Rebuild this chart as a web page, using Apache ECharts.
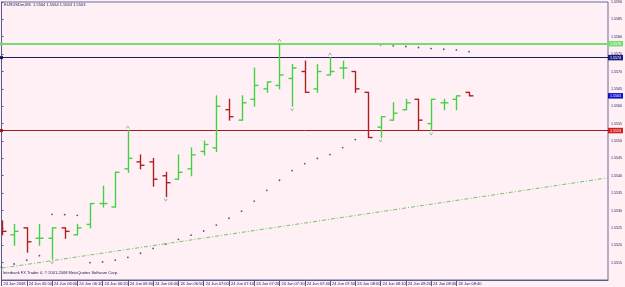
<!DOCTYPE html>
<html><head><meta charset="utf-8">
<script src="https://cdn.jsdelivr.net/npm/echarts@6/dist/echarts.min.js"></script>
<style>html,body{margin:0;padding:0;background:#fff0f5}#c{width:625px;height:287px}</style>
</head><body><div id="c"></div>
<script>
const symbolName = 'EURUSDm,M5';
const barOpen  = [1.5526,1.5523,1.5525,1.5522,1.5522,1.5525,1.5523,1.5526,1.5532,1.5531,1.5542,1.5544,1.5544,1.5540,1.5539,1.5542,1.5547,1.5548,1.5559,1.5556,1.5562,1.5565,1.5566,1.5568,1.5570,1.5565,1.5569,1.5571,1.5570,1.5564,1.5554,1.5556,1.5559,1.5562,1.5555,1.5561,1.5562,1.5564];
const barHigh  = [1.5527,1.5526,1.5525,1.5526,1.5525,1.5525,1.5526,1.5532,1.5537,1.5541,1.5553,1.5546,1.5545,1.5541,1.5546,1.5548,1.5550,1.5563,1.5562,1.5563,1.5571,1.5567,1.5578,1.5572,1.5573,1.5572,1.5574,1.5573,1.5570,1.5564,1.5557,1.5561,1.5562,1.5562,1.5562,1.5562,1.5563,1.5564];
const barLow   = [1.5523,1.5520,1.5518,1.5520,1.5516,1.5522,1.5523,1.5525,1.5531,1.5531,1.5541,1.5542,1.5537,1.5534,1.5539,1.5540,1.5546,1.5547,1.5556,1.5556,1.5560,1.5564,1.5565,1.5560,1.5564,1.5564,1.5569,1.5568,1.5564,1.5551,1.5551,1.5556,1.5559,1.5553,1.5553,1.5559,1.5559,1.5563];
const barClose = [1.5524,1.5524,1.5521,1.5522,1.5525,1.5524,1.5525,1.5532,1.5532,1.5541,1.5545,1.5543,1.5539,1.5538,1.5541,1.5546,1.5549,1.5560,1.5557,1.5561,1.5566,1.5567,1.5569,1.5571,1.5564,1.5570,1.5570,1.5571,1.5565,1.5551,1.5557,1.5558,1.5561,1.5556,1.5562,1.5561,1.5563,1.5563];
const sarValues = [1.55137,1.55146,1.55157,1.55170,1.55289,1.55288,1.55286,1.55150,1.55152,1.55157,1.55165,1.55177,1.55191,1.55203,1.55217,1.55229,1.55241,1.55258,1.55278,1.55298,1.55327,1.55358,1.55387,1.55415,1.55435,1.55450,1.55461,1.55481,1.55504,1.55779,1.55777,1.55774,1.55772,1.55769,1.55766,1.55764,1.55762,1.55757];
const fractalUpBars = [10,22,26];
const fractalDownBars = [4,13,23,30,34];
const tickLabels = ['24 Jun 2008','24 Jun 05:50','24 Jun 06:00','24 Jun 06:10','24 Jun 06:20','24 Jun 06:30','24 Jun 06:40','24 Jun 06:50','24 Jun 07:00','24 Jun 07:10','24 Jun 07:20','24 Jun 07:30','24 Jun 07:40','24 Jun 07:50','24 Jun 08:00','24 Jun 08:10','24 Jun 08:20','24 Jun 08:30','24 Jun 08:40'];
const tickBars = [0,2,4,6,8,10,12,14,16,18,20,22,24,26,28,30,32,34,36];
const levelGreen = 1.5578, levelNavy = 1.5574, levelRed = 1.5553;
const trendStart = [0, 1.55134], trendEnd = [48, 1.55394];
const priceMin = 1.5510, priceMax = 1.5590, priceStep = 0.0005;
const slotCount = 48;

const upColor = '#45d045', downColor = '#ad2020';
const FONT = 'Liberation Sans';
const last = barOpen.length - 1;
const lastPrice = barClose[last];

const ohlc = barOpen.map((o, i) => [i, o, barHigh[i], barLow[i], barClose[i]]);

function renderOHLC(params, api) {
  const i = api.value(0);
  const o = api.coord([i, api.value(1)]);
  const h = api.coord([i, api.value(2)]);
  const l = api.coord([i, api.value(3)]);
  const c = api.coord([i, api.value(4)]);
  const up = api.value(4) >= api.value(1);
  const color = up ? upColor : downColor;
  const x = Math.round(o[0]) + 0.5;
  const t = 4;
  const style = {stroke: color, lineWidth: 1.4, fill: null};
  return {type: 'group', children: [
    {type: 'line', shape: {x1: x, y1: h[1] - 0.5, x2: x, y2: l[1] + 0.5}, style},
    {type: 'line', shape: {x1: x - t, y1: o[1], x2: x, y2: o[1]}, style},
    {type: 'line', shape: {x1: x, y1: c[1], x2: x + t, y2: c[1]}, style}
  ]};
}

const chart = echarts.init(document.getElementById('c'), null, {renderer: 'canvas'});
chart.setOption({
  animation: false,
  backgroundColor: '#fff0f5',
  textStyle: {fontFamily: FONT},
  grid: {left: 1.5, right: 16, top: 1, height: 279, show: true, borderColor: '#6a6a9a', borderWidth: 1, backgroundColor: '#fff0f5'},
  xAxis: {
    type: 'value', min: 0, max: slotCount, interval: 2,
    splitLine: {show: false},
    axisLine: {show: true, lineStyle: {color: '#5a5a8a'}},
    axisTick: {show: true, length: 6, customValues: tickBars, lineStyle: {color: '#5a5a8a'}},
    axisLabel: {show: true, customValues: tickBars, align: 'left', verticalAlign: 'top', margin: 1.5, padding: [0,0,0,2],
      fontSize: 4, color: '#202060', fontFamily: FONT,
      formatter: v => tickLabels[tickBars.indexOf(Math.round(v))] || ''}
  },
  yAxis: {
    type: 'value', position: 'right', min: priceMin, max: priceMax, interval: priceStep, scale: true,
    splitLine: {show: false},
    axisLine: {show: true, lineStyle: {color: '#5a5a8a'}},
    axisTick: {show: true, length: 2, lineStyle: {color: '#5a5a8a'}},
    axisLabel: {show: true, showMinLabel: false, margin: 3, fontSize: 3.6, color: '#202060', fontFamily: FONT,
      formatter: v => v.toFixed(4)}
  },
  graphic: [
    {type: 'text', left: 4, top: 2.5, silent: true,
      style: {text: symbolName + '  ' + [barOpen[last], barHigh[last], barLow[last], barClose[last]].map(v => v.toFixed(4)).join(' '),
        font: '4px "Liberation Sans"', fill: '#202060'}},
    {type: 'text', left: 3, top: 271, silent: true,
      style: {text: 'Interbank FX Trader 4, \u00a9 2001-2008 MetaQuotes Software Corp.', font: '4px "Liberation Sans"', fill: '#202060'}}
  ],
  series: [
    {
      type: 'custom', name: 'bars', renderItem: renderOHLC, data: ohlc,
      encode: {x: 0, y: [1, 2, 3, 4]}, clip: true, z: 5,
      markLine: {
        silent: true, animation: false, symbol: ['rect', 'none'], symbolSize: 3, precision: 4,
        label: {show: true, position: 'end', distance: 0, fontSize: 3.6, fontFamily: FONT, color: '#ffffff', padding: [1, 2, 0.5, 2],
          formatter: p => Number(p.value).toFixed(4)},
        data: [
          {yAxis: levelGreen, lineStyle: {color: '#74dc74', width: 2, type: 'solid'}, itemStyle: {color: '#74dc74'}, label: {backgroundColor: '#74dc74'}},
          {yAxis: levelNavy, lineStyle: {color: '#1c1c60', width: 1, type: 'solid'}, itemStyle: {color: '#1c1c60'}, label: {backgroundColor: '#1c1c80'}},
          {yAxis: levelRed, lineStyle: {color: '#a01c1c', width: 1, type: 'solid'}, itemStyle: {color: '#a01c1c'}, label: {backgroundColor: '#d02020'}},
          {yAxis: lastPrice, symbol: 'none', lineStyle: {color: 'rgba(0,0,0,0)', width: 1}, label: {backgroundColor: '#1010c8', color: '#ffffff'}},
          [
            {coord: trendStart, symbol: 'none', lineStyle: {color: '#6cc86c', width: 1, type: [4, 2, 1, 2]}, label: {show: false}},
            {coord: trendEnd, symbol: 'none'}
          ]
        ]
      }
    },
    {
      type: 'scatter', name: 'sar', data: sarValues.map((v, i) => [i, v]),
      symbol: 'circle', symbolSize: 1.8, itemStyle: {color: '#30306a'}, z: 4, silent: true
    },
    {
      type: 'scatter', name: 'fractalUp', data: fractalUpBars.map(i => [i, barHigh[i]]),
      symbol: 'path://M0,6L3,0L6,6L5,6L3,2L1,6Z', symbolSize: [4, 3], symbolOffset: [0, -3.5],
      itemStyle: {color: '#707080'}, z: 4, silent: true
    },
    {
      type: 'scatter', name: 'fractalDown', data: fractalDownBars.map(i => [i, barLow[i]]),
      symbol: 'path://M0,0L3,6L6,0L5,0L3,4L1,0Z', symbolSize: [4, 3], symbolOffset: [0, 3.5],
      itemStyle: {color: '#707080'}, z: 4, silent: true
    }
  ]
});
</script></body></html>
